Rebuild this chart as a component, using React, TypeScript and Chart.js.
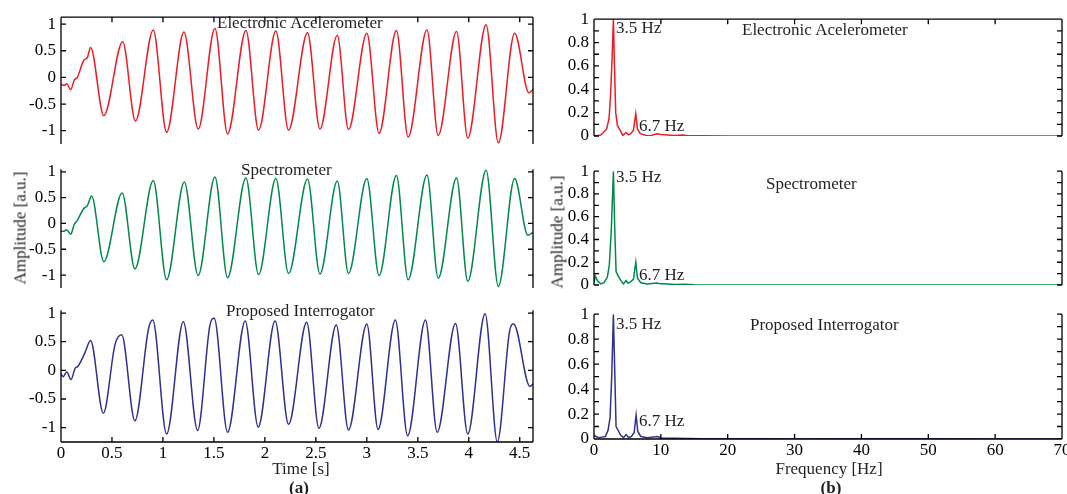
import React, { useEffect, useRef } from 'react';
import { Chart, registerables } from 'chart.js';
Chart.register(...registerables);

const FONT = "'Liberation Serif', 'Times New Roman', serif";
const FS = 17;

// ---- Time-domain data (a) ----
const redT = [0, 0.03, 0.055, 0.095, 0.13, 0.16, 0.22, 0.26, 0.29, 0.42, 0.605, 0.73, 0.905, 1.036, 1.206, 1.346, 1.51, 1.634, 1.814, 1.938, 2.108, 2.232, 2.418, 2.54, 2.71, 2.82, 3.0, 3.12, 3.29, 3.405, 3.59, 3.7, 3.88, 3.99, 4.17, 4.29, 4.45, 4.59, 4.63];
const redV = [-0.13, -0.15, -0.12, -0.23, -0.05, 0.0, 0.31, 0.38, 0.56, -0.72, 0.67, -0.82, 0.89, -1.03, 0.85, -0.97, 0.92, -1.06, 0.88, -0.99, 0.87, -0.99, 0.84, -0.97, 0.79, -0.98, 0.83, -1.05, 0.88, -1.12, 0.89, -1.09, 0.86, -1.14, 0.99, -1.23, 0.83, -0.29, -0.23];

const greenT = [0, 0.03, 0.055, 0.095, 0.13, 0.16, 0.22, 0.26, 0.3, 0.42, 0.6, 0.725, 0.905, 1.036, 1.21, 1.345, 1.51, 1.634, 1.814, 1.938, 2.108, 2.232, 2.418, 2.54, 2.71, 2.82, 3.0, 3.12, 3.29, 3.405, 3.59, 3.7, 3.88, 3.99, 4.17, 4.29, 4.45, 4.58, 4.63];
const greenV = [-0.15, -0.15, -0.12, -0.21, -0.02, 0.06, 0.28, 0.35, 0.53, -0.74, 0.59, -0.88, 0.83, -1.09, 0.8, -1.01, 0.9, -1.05, 0.88, -0.99, 0.87, -0.97, 0.86, -0.98, 0.82, -0.97, 0.87, -1.01, 0.93, -1.09, 0.94, -1.06, 0.88, -1.12, 1.03, -1.22, 0.87, -0.23, -0.17];

const blueT = [0, 0.02, 0.056, 0.098, 0.14, 0.16, 0.19, 0.235, 0.29, 0.415, 0.53, 0.595, 0.725, 0.86, 0.9, 1.036, 1.2, 1.34, 1.46, 1.503, 1.634, 1.807, 1.934, 2.1, 2.232, 2.41, 2.53, 2.7, 2.82, 3.0, 3.11, 3.28, 3.4, 3.575, 3.69, 3.87, 3.99, 4.16, 4.28, 4.4, 4.44, 4.6, 4.63];
const blueV = [-0.06, -0.11, -0.03, -0.16, 0.04, 0.06, 0.14, 0.31, 0.52, -0.75, 0.45, 0.62, -0.88, 0.74, 0.88, -1.11, 0.85, -1.05, 0.78, 0.91, -1.08, 0.86, -0.99, 0.86, -0.94, 0.84, -1.01, 0.79, -1.04, 0.81, -1.03, 0.88, -1.14, 0.88, -1.08, 0.82, -1.11, 0.99, -1.25, 0.68, 0.81, -0.28, -0.24];

// ---- Frequency-domain data (b) ----
const redF = [0, 0.5, 1.0, 1.4, 1.9, 2.25, 2.5, 2.75, 2.9, 3.05, 3.25, 3.5, 3.9, 4.3, 4.8, 5.15, 5.5, 5.9, 6.25, 6.5, 6.9, 7.9, 8.6, 9.4, 10, 11, 12, 13.3, 14, 16, 20, 30, 40, 50, 60, 70];
const redA = [0.005, 0.003, 0.008, 0.03, 0.06, 0.15, 0.37, 0.74, 1.0, 0.62, 0.2, 0.09, 0.05, 0.005, 0.03, 0.01, 0.02, 0.05, 0.19, 0.06, 0.02, 0.003, 0.005, 0.02, 0.012, 0.008, 0.005, 0.008, 0.003, 0.002, 0.001, 0.001, 0.001, 0.001, 0.001, 0.001];

const greenF = [0, 0.2, 0.5, 1.0, 1.5, 2.0, 2.3, 2.6, 2.9, 3.1, 3.3, 3.6, 4.0, 4.4, 4.8, 5.1, 5.5, 5.9, 6.25, 6.5, 7, 8, 9.4, 10, 11, 12, 13.5, 15, 20, 30, 40, 50, 60, 70];
const greenA = [0.02, 0.08, 0.04, 0.01, 0.02, 0.07, 0.18, 0.5, 1.0, 0.5, 0.12, 0.08, 0.04, 0.01, 0.04, 0.015, 0.03, 0.05, 0.2, 0.06, 0.02, 0.008, 0.018, 0.01, 0.008, 0.005, 0.006, 0.002, 0.001, 0.001, 0.001, 0.001, 0.001, 0.001];

const blueF = [0, 0.3, 0.7, 1.2, 1.7, 2.1, 2.4, 2.65, 2.9, 3.1, 3.3, 3.6, 4.0, 4.4, 4.8, 5.2, 5.6, 6.0, 6.3, 6.55, 7, 8, 9.5, 10, 12, 14, 16, 20, 25, 30, 40, 50, 60, 70];
const blueA = [0.03, 0.02, 0.01, 0.015, 0.02, 0.07, 0.17, 0.5, 1.0, 0.55, 0.1, 0.07, 0.03, 0.01, 0.035, 0.01, 0.02, 0.05, 0.19, 0.06, 0.02, 0.01, 0.02, 0.008, 0.006, 0.005, 0.003, 0.002, 0.003, 0.001, 0.002, 0.003, 0.001, 0.001];

// ---- Ticks ----
const timeTicks = [0, 0.5, 1, 1.5, 2, 2.5, 3, 3.5, 4, 4.5];
const timeTickLabels = ['0', '0.5', '1', '1.5', '2', '2.5', '3', '3.5', '4', '4.5'];
const ampTicks = [-1, -0.5, 0, 0.5, 1];
const ampTickLabels = ['-1', '-0.5', '0', '0.5', '1'];
const freqTicks = [0, 10, 20, 30, 40, 50, 60, 70];
const freqTickLabels = ['0', '10', '20', '30', '40', '50', '60', '70'];
const specTicks = [0, 0.2, 0.4, 0.6, 0.8, 1];
const specTickLabels = ['0', '0.2', '0.4', '0.6', '0.8', '1'];
const specMinorTicks = [0, 0.1, 0.2, 0.3, 0.4, 0.5, 0.6, 0.7, 0.8, 0.9, 1];

const RED = '#ED1C24';
const GREEN = '#00894A';
const BLUE = '#2E3192';

const pts = (xs: number[], ys: number[]) => xs.map((x, i) => ({ x, y: ys[i] }));

const framePlugin = {
  id: 'frame',
  afterDraw(chart: any, _args: any, opts: any) {
    const { ctx, chartArea } = chart;
    const { left, right, top, bottom } = chartArea;
    const xs = chart.scales.x;
    const ys = chart.scales.y;
    const L = 5;
    ctx.save();
    ctx.strokeStyle = '#000';
    ctx.lineWidth = 1.3;
    ctx.beginPath();
    ctx.moveTo(left, top);
    ctx.lineTo(left, bottom);
    ctx.moveTo(right, top);
    ctx.lineTo(right, bottom);
    if (opts.top) {
      ctx.moveTo(left, top);
      ctx.lineTo(right, top);
    }
    if (opts.bottom) {
      ctx.moveTo(left, bottom);
      ctx.lineTo(right, bottom);
    }
    for (const v of opts.yTicks) {
      const y = ys.getPixelForValue(v);
      ctx.moveTo(left, y);
      ctx.lineTo(left + L, y);
      ctx.moveTo(right, y);
      ctx.lineTo(right - L, y);
    }
    for (const v of opts.xTicks) {
      const x = xs.getPixelForValue(v);
      if (opts.top) {
        ctx.moveTo(x, top);
        ctx.lineTo(x, top + L);
      }
      if (opts.bottom) {
        ctx.moveTo(x, bottom);
        ctx.lineTo(x, bottom - L);
      }
    }
    ctx.stroke();
    ctx.restore();
  },
};

type PanelCfg = {
  left: number; top: number; width: number; height: number;
  data: { x: number; y: number }[]; color: string; smooth: boolean;
  xMin: number; xMax: number; yMin: number; yMax: number;
  xTicks: number[]; xLabels: string[]; yTicks: number[]; yLabels: string[]; yFrameTicks: number[];
  showX: boolean; frameTop: boolean; frameBottom: boolean;
};

const ML = 52, MT = 12, MR = 22;

function Panel({ cfg }: { cfg: PanelCfg }) {
  const ref = useRef<HTMLCanvasElement>(null);
  const mb = cfg.showX ? 26 : 12;
  useEffect(() => {
    const font = { family: FONT, size: FS };
    const chart = new Chart(ref.current as HTMLCanvasElement, {
      type: 'line',
      data: {
        datasets: [{
          data: cfg.data,
          borderColor: cfg.color,
          borderWidth: 1.5,
          pointRadius: 0,
          fill: false,
          tension: 0,
          cubicInterpolationMode: cfg.smooth ? 'monotone' : 'default',
        } as any],
      },
      options: {
        animation: false,
        responsive: false,
        events: [],
        layout: { padding: { left: 0, top: MT, right: MR, bottom: cfg.showX ? 0 : mb } },
        plugins: {
          legend: { display: false },
          tooltip: { enabled: false },
          frame: { top: cfg.frameTop, bottom: cfg.frameBottom, yTicks: cfg.yFrameTicks, xTicks: cfg.xTicks },
        } as any,
        scales: {
          x: {
            type: 'linear',
            min: cfg.xMin,
            max: cfg.xMax,
            display: cfg.showX,
            grid: { display: false, drawTicks: false },
            border: { display: false },
            ticks: {
              font, color: '#000', padding: 1, maxRotation: 0, autoSkip: false,
              callback: (_v: any, i: number) => cfg.xLabels[i],
            },
            afterBuildTicks: (s: any) => { s.ticks = cfg.xTicks.map((v) => ({ value: v })); },
            afterFit: (s: any) => { s.height = mb; },
          },
          y: {
            type: 'linear',
            min: cfg.yMin,
            max: cfg.yMax,
            grid: { display: false, drawTicks: false },
            border: { display: false },
            ticks: {
              font, color: '#000', padding: 5, autoSkip: false,
              callback: (_v: any, i: number) => cfg.yLabels[i],
            },
            afterBuildTicks: (s: any) => { s.ticks = cfg.yTicks.map((v) => ({ value: v })); },
            afterFit: (s: any) => { s.width = ML; },
          },
        },
      } as any,
      plugins: [framePlugin as any],
    });
    return () => chart.destroy();
  }, []);
  return (
    <canvas
      ref={ref}
      width={cfg.width + ML + MR}
      height={cfg.height + MT + mb}
      style={{ position: 'absolute', left: cfg.left - ML, top: cfg.top - MT }}
    />
  );
}

const leftBase = { left: 61, width: 472, xMin: 0, xMax: 4.63, xTicks: timeTicks, xLabels: timeTickLabels, yTicks: ampTicks, yLabels: ampTickLabels, yFrameTicks: ampTicks, smooth: true };
const rightBase = { left: 594, width: 468, xMin: 0, xMax: 70, xTicks: freqTicks, xLabels: freqTickLabels, yTicks: specTicks, yLabels: specTickLabels, yFrameTicks: specMinorTicks, smooth: false, yMin: 0, yMax: 1 };

const panels: PanelCfg[] = [
  { ...leftBase, top: 14, height: 142, yMin: -1.25, yMax: 1.13, data: pts(redT, redV), color: RED, showX: false, frameTop: true, frameBottom: false },
  { ...leftBase, top: 166, height: 134, yMin: -1.25, yMax: 1.05, data: pts(greenT, greenV), color: GREEN, showX: false, frameTop: false, frameBottom: false },
  { ...leftBase, top: 307, height: 135, yMin: -1.25, yMax: 1.05, data: pts(blueT, blueV), color: BLUE, showX: true, frameTop: false, frameBottom: true },
  { ...rightBase, top: 16, height: 132, data: pts(redF, redA), color: RED, showX: false, frameTop: true, frameBottom: false },
  { ...rightBase, top: 168, height: 129, data: pts(greenF, greenA), color: GREEN, showX: false, frameTop: false, frameBottom: false },
  { ...rightBase, top: 311, height: 128, data: pts(blueF, blueA), color: BLUE, showX: true, frameTop: false, frameBottom: true },
];

type Txt = { t: string; x: number; y: number; center?: boolean; bold?: boolean; rotate?: boolean };
const texts: Txt[] = [
  { t: 'Electronic Acelerometer', x: 217, y: 22 },
  { t: 'Spectrometer', x: 241, y: 169 },
  { t: 'Proposed Interrogator', x: 226, y: 310 },
  { t: 'Electronic Acelerometer', x: 742, y: 29 },
  { t: 'Spectrometer', x: 766, y: 183 },
  { t: 'Proposed Interrogator', x: 750, y: 324 },
  { t: '3.5 Hz', x: 616, y: 27 },
  { t: '6.7 Hz', x: 639, y: 125 },
  { t: '3.5 Hz', x: 616, y: 176 },
  { t: '6.7 Hz', x: 639, y: 274 },
  { t: '3.5 Hz', x: 616, y: 323 },
  { t: '6.7 Hz', x: 639, y: 420 },
  { t: 'Amplitude [a.u.]', x: 20, y: 228, center: true, rotate: true },
  { t: 'Amplitude [a.u.]', x: 557, y: 232, center: true, rotate: true },
  { t: 'Time [s]', x: 301, y: 468, center: true },
  { t: 'Frequency [Hz]', x: 829, y: 468, center: true },
  { t: '(a)', x: 299, y: 487, center: true, bold: true },
  { t: '(b)', x: 831, y: 487, center: true, bold: true },
];

export default function App() {
  return (
    <div style={{ position: 'fixed', left: 0, top: 0, width: 1067, height: 494, background: '#fff', overflow: 'hidden' }}>
      {panels.map((p, i) => <Panel key={i} cfg={p} />)}
      {texts.map((tx, i) => (
        <div
          key={'t' + i}
          style={{
            position: 'absolute',
            left: tx.x,
            top: tx.center ? tx.y : tx.y - 8.5,
            fontFamily: FONT,
            fontSize: FS,
            lineHeight: 1,
            fontWeight: tx.bold ? 'bold' : 'normal',
            color: '#231F20',
            whiteSpace: 'nowrap',
            transform: tx.center ? (tx.rotate ? 'translate(-50%, -50%) rotate(-90deg)' : 'translate(-50%, -50%)') : undefined,
          }}
        >
          {tx.t}
        </div>
      ))}
    </div>
  );
}
